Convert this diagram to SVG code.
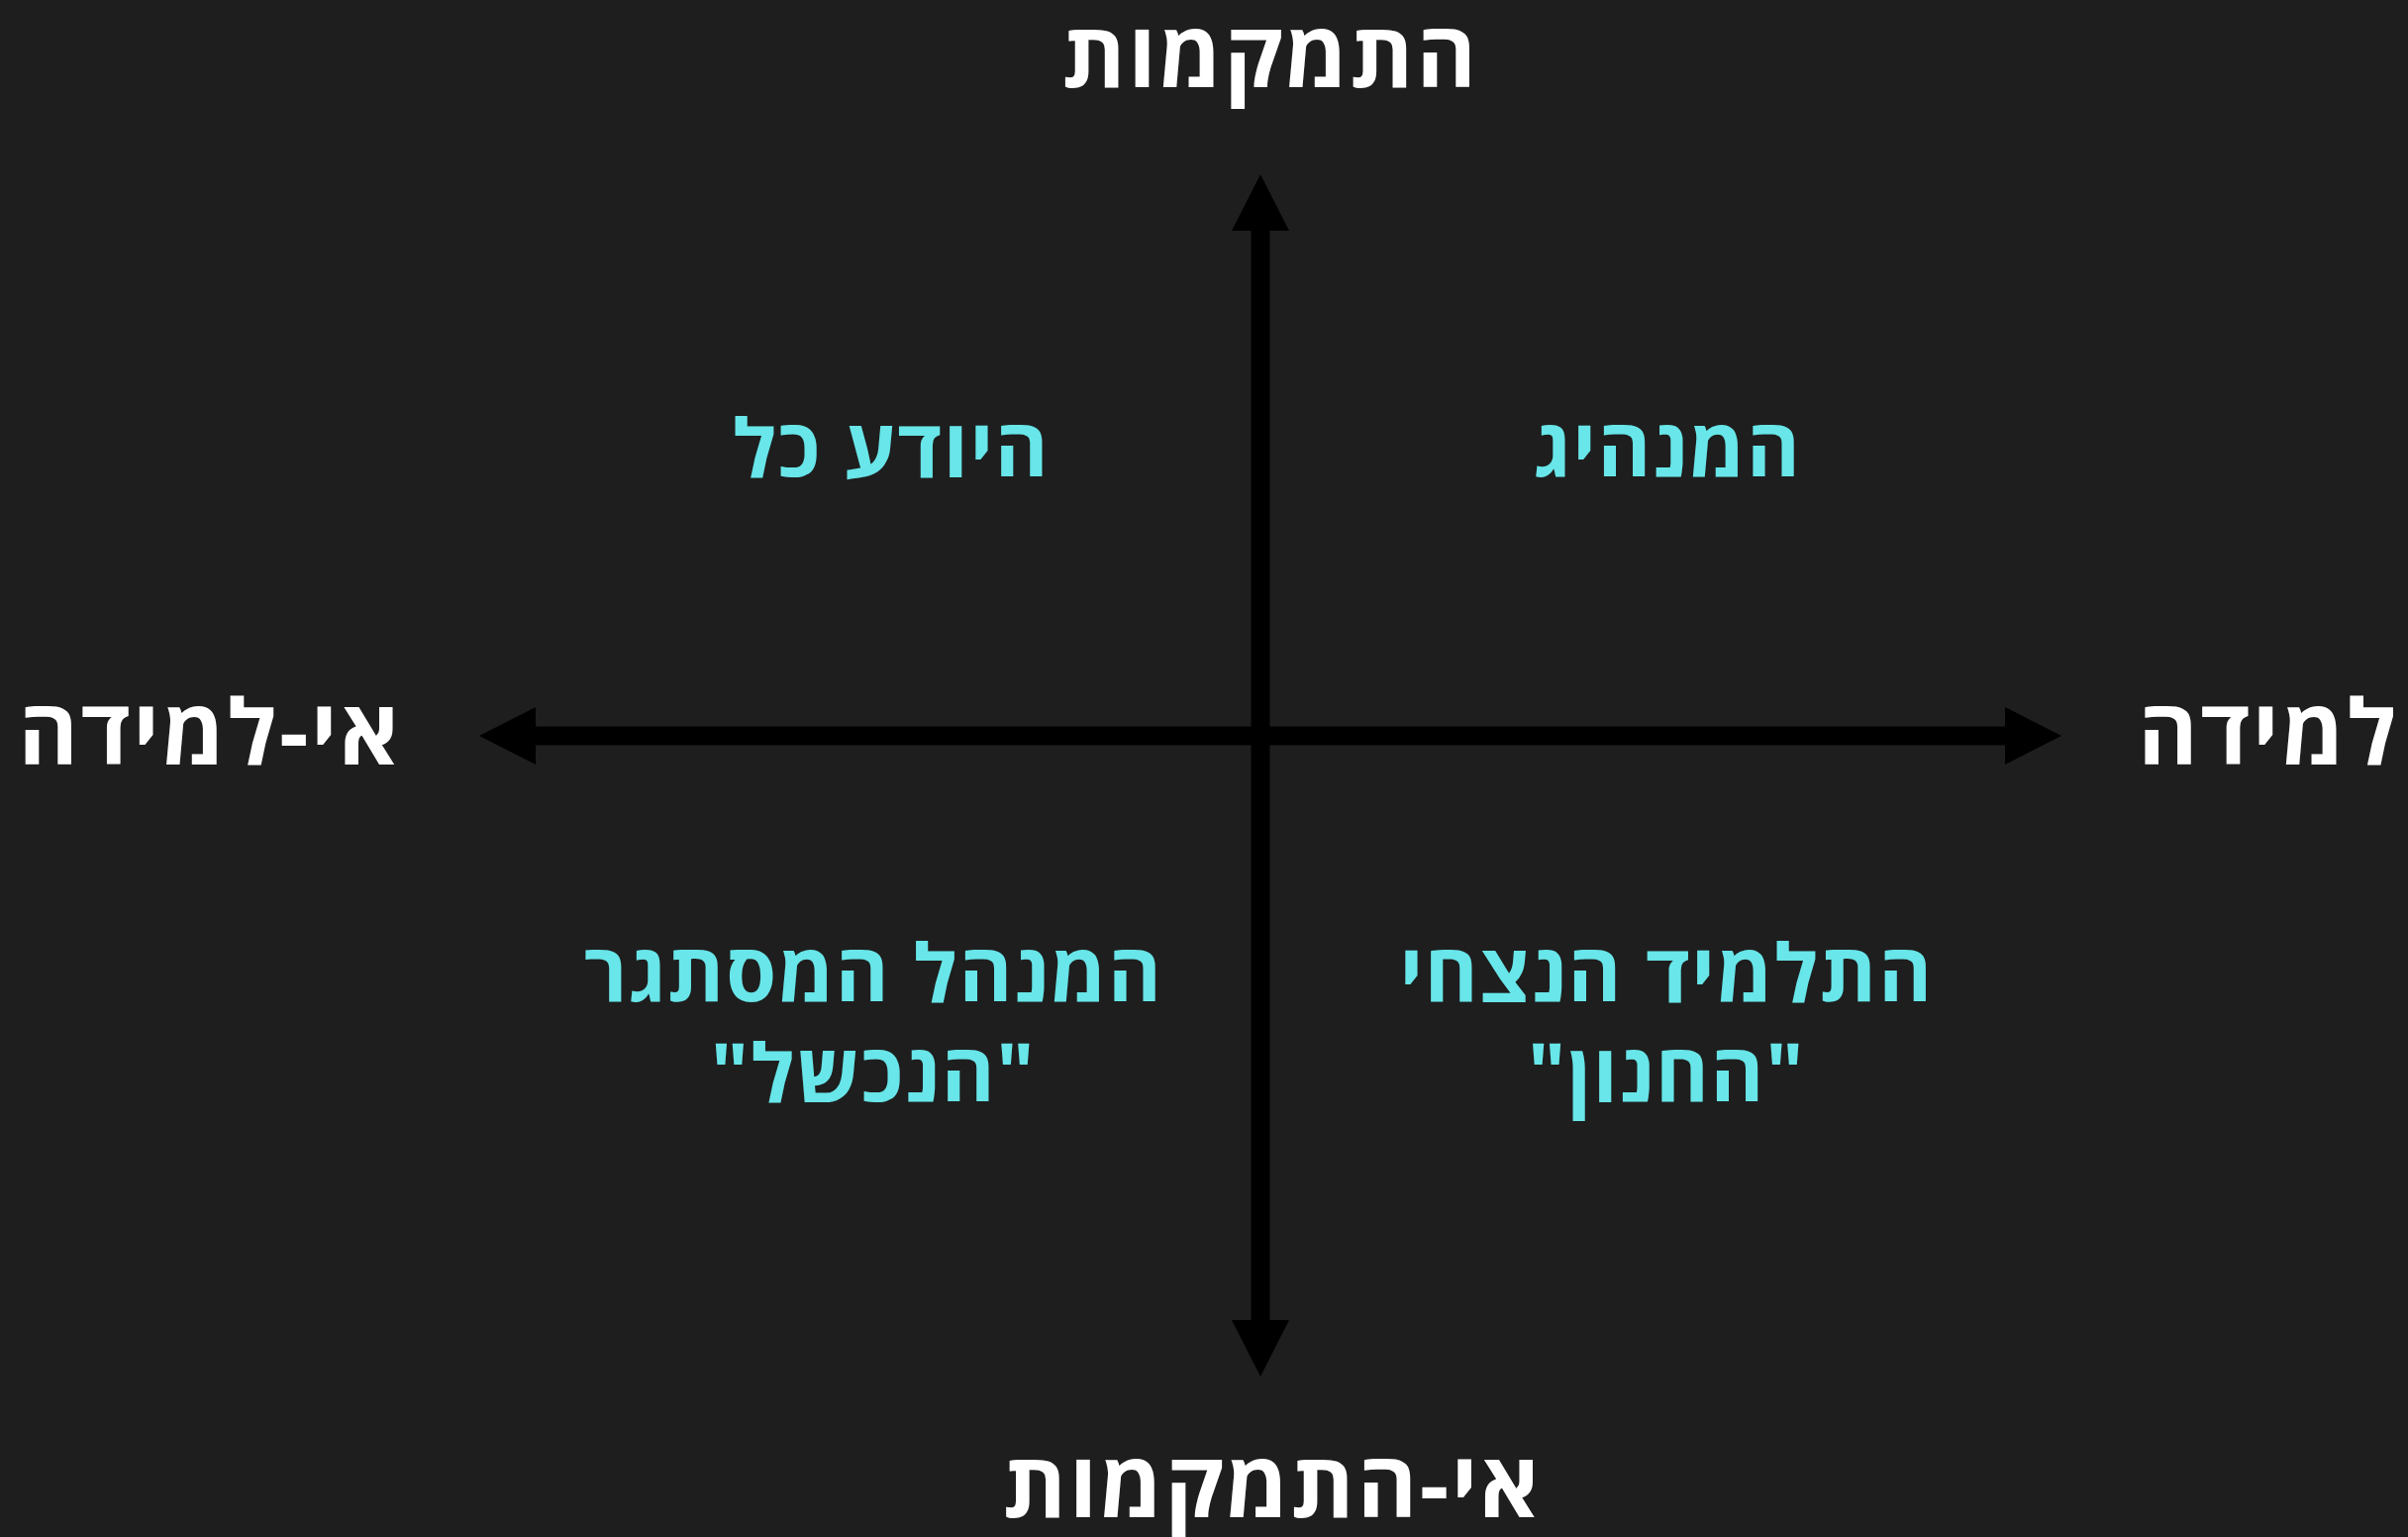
<svg xmlns="http://www.w3.org/2000/svg" width="2432" height="1552" viewBox="0 0 2432 1552">
  <defs>
    <marker id="arrow" markerUnits="userSpaceOnUse" markerWidth="58" markerHeight="58" refX="1" refY="29" orient="auto-start-reverse" viewBox="0 0 58 58">
      <path d="M0,0 L57,29 L0,58 Z" fill="#000000"/>
    </marker>
  </defs>
  <style>
    .axis-label { font-family: "Open Sans", "Noto Sans", "DejaVu Sans", sans-serif; font-weight: 700; font-size: 92px; letter-spacing: 2.5px; fill: #ffffff; }
    .quad { font-family: "Open Sans", "Noto Sans", "DejaVu Sans", sans-serif; font-weight: 700; font-size: 82px; letter-spacing: 1.6px; fill: #68e6e9; }
    .axis { stroke: #000000; stroke-width: 19; fill: none; marker-start: url(#arrow); marker-end: url(#arrow); }
  </style>
  <rect x="0" y="0" width="2432" height="1552" fill="#1e1e1e"/>

  <g id="connectors">
    <line class="axis" x1="540" y1="743" x2="2026" y2="743"/>
    <line class="axis" x1="1273" y1="232" x2="1273" y2="1334"/>
  </g>

  <g id="label-top">
    <text class="axis-label" x="1283" y="88" text-anchor="middle" direction="rtl">התמקמות</text>
  </g>
  <g id="label-bottom">
    <text class="axis-label" x="1285" y="1532" text-anchor="middle" direction="rtl">אי-התמקמות</text>
  </g>
  <g id="label-left">
    <text class="axis-label" x="212" y="772" text-anchor="middle" direction="rtl">אי-למידה</text>
  </g>
  <g id="label-right">
    <text class="axis-label" x="2291" y="772" text-anchor="middle" direction="rtl">למידה</text>
  </g>

  <g id="quadrant-leader">
    <text class="quad" x="1684" y="482" text-anchor="middle" direction="rtl">המנהיג</text>
  </g>
  <g id="quadrant-know-all">
    <text class="quad" x="900" y="482" text-anchor="middle" direction="rtl">היודע כל</text>
  </g>
  <g id="quadrant-closed-manager">
    <text class="quad" x="882" y="1012" text-anchor="middle" direction="rtl">המנהל המסתגר</text>
    <text class="quad" x="882" y="1113" text-anchor="middle" direction="rtl">"הנכשל"</text>
  </g>
  <g id="quadrant-eternal-student">
    <text class="quad" x="1683" y="1012" text-anchor="middle" direction="rtl">התלמיד הנצחי</text>
    <text class="quad" x="1683" y="1113" text-anchor="middle" direction="rtl">"החנון"</text>
  </g>
</svg>
